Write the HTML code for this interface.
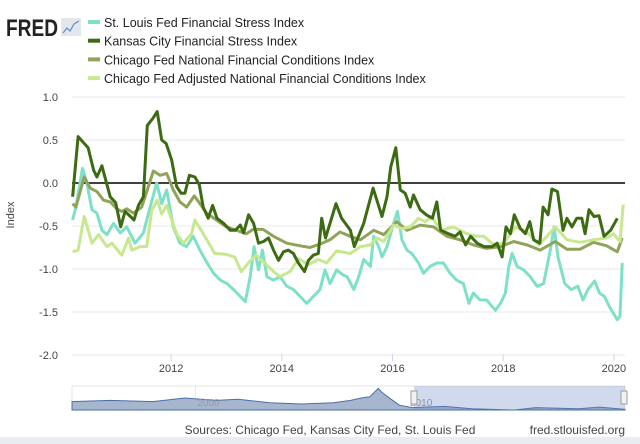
<!DOCTYPE html>
<html><head><meta charset="utf-8">
<style>
body{margin:0;background:#fff;font-family:"Liberation Sans",sans-serif;}
#wrap{position:relative;width:640px;height:444px;overflow:hidden;background:#fff}
svg text{font-family:"Liberation Sans",sans-serif}
</style></head>
<body>
<div id="wrap">
<svg id="chart" width="640" height="444">
  <rect x="0" y="437" width="640" height="7" fill="#e9edf1"/>
  <g>
    <text x="6" y="36" font-size="24" font-weight="bold" fill="#222" textLength="52" lengthAdjust="spacingAndGlyphs">FRED</text>
    <rect x="61" y="18" width="20" height="18" fill="#e3e6ea"/>
    <polyline points="63,33 67,28 70,31 74,24 79,21" fill="none" stroke="#5a8fc4" stroke-width="1.2"/>
  </g>
  <g id="legend"></g>
  <g id="grid"></g>
  <g id="series"></g>
  <g id="nav"></g>
  <text x="14" y="215" font-size="11" fill="#444" transform="rotate(-90 14 215)" text-anchor="middle">Index</text>
  <text x="330" y="434" font-size="12" fill="#444" text-anchor="middle">Sources: Chicago Fed, Kansas City Fed, St. Louis Fed</text>
  <text x="625" y="434" font-size="12" fill="#444" text-anchor="end">fred.stlouisfed.org</text>
</svg>
</div>
<script>
const yTicks=[1.0,0.5,0.0,-0.5,-1.0,-1.5,-2.0];
const xTicks=[2012,2014,2016,2018,2020];
const seriesNames=["St. Louis Fed Financial Stress Index","Kansas City Financial Stress Index","Chicago Fed National Financial Conditions Index","Chicago Fed Adjusted National Financial Conditions Index"];
const stlX=[2010.22,2010.28,2010.4,2010.48,2010.57,2010.66,2010.75,2010.84,2010.96,2011.08,2011.2,2011.35,2011.5,2011.62,2011.74,2011.83,2011.92,2012.04,2012.16,2012.28,2012.4,2012.52,2012.65,2012.77,2012.89,2013.01,2013.13,2013.25,2013.34,2013.43,2013.5,2013.58,2013.65,2013.73,2013.85,2013.97,2014.09,2014.21,2014.33,2014.45,2014.57,2014.69,2014.78,2014.87,2014.99,2015.11,2015.18,2015.3,2015.39,2015.48,2015.6,2015.66,2015.75,2015.81,2015.9,2016.02,2016.09,2016.17,2016.26,2016.35,2016.47,2016.56,2016.68,2016.8,2016.92,2017.04,2017.16,2017.28,2017.38,2017.46,2017.58,2017.7,2017.86,2017.95,2018.04,2018.1,2018.16,2018.25,2018.37,2018.49,2018.61,2018.73,2018.85,2018.92,2018.99,2019.11,2019.23,2019.35,2019.44,2019.53,2019.65,2019.74,2019.83,2019.92,2020.06,2020.11,2020.15];
const stlY=[-0.43,-0.28,0.17,0,-0.31,-0.35,-0.55,-0.6,-0.47,-0.58,-0.51,-0.7,-0.58,-0.28,0,-0.24,-0.08,-0.51,-0.7,-0.74,-0.62,-0.78,-0.93,-1.05,-1.13,-1.17,-1.24,-1.32,-1.38,-1.09,-0.74,-1.01,-0.78,-1.09,-1.13,-1.09,-1.2,-1.24,-1.32,-1.4,-1.32,-1.24,-1.01,-1.17,-1.01,-1.07,-1.09,-1.24,-1.09,-0.89,-0.97,-0.62,-0.74,-0.86,-0.74,-0.47,-0.33,-0.66,-0.78,-0.82,-0.93,-1.05,-0.97,-0.93,-0.93,-1.05,-1.13,-1.17,-1.4,-1.28,-1.36,-1.36,-1.48,-1.4,-1.28,-0.97,-0.82,-0.97,-1.01,-1.09,-1.2,-1.17,-0.78,-0.51,-0.86,-1.17,-1.24,-1.2,-1.36,-1.24,-1.14,-1.28,-1.32,-1.44,-1.59,-1.55,-0.93];
const kcX=[2010.22,2010.32,2010.5,2010.6,2010.66,2010.75,2010.9,2011.0,2011.09,2011.17,2011.33,2011.41,2011.5,2011.57,2011.67,2011.75,2011.83,2011.91,2012.01,2012.1,2012.18,2012.25,2012.33,2012.43,2012.51,2012.58,2012.67,2012.75,2012.83,2012.95,2013.07,2013.16,2013.25,2013.31,2013.4,2013.49,2013.58,2013.67,2013.76,2013.85,2013.94,2014.03,2014.12,2014.21,2014.3,2014.41,2014.48,2014.57,2014.66,2014.72,2014.79,2014.87,2014.98,2015.08,2015.24,2015.31,2015.48,2015.65,2015.81,2015.9,2015.97,2016.06,2016.14,2016.23,2016.32,2016.38,2016.5,2016.61,2016.72,2016.8,2016.87,2017.01,2017.13,2017.22,2017.32,2017.41,2017.53,2017.65,2017.8,2017.89,2017.98,2018.05,2018.13,2018.2,2018.31,2018.4,2018.48,2018.55,2018.66,2018.72,2018.81,2018.88,2018.98,2019.08,2019.15,2019.24,2019.33,2019.42,2019.48,2019.55,2019.64,2019.73,2019.82,2019.94,2020.06];
const kcY=[-0.16,0.54,0.41,0.15,0.07,0.2,-0.16,-0.23,-0.51,-0.33,-0.43,-0.26,-0.16,0.67,0.75,0.83,0.5,0.46,0.27,-0.04,-0.12,-0.12,0.09,0.07,-0.02,-0.28,-0.41,-0.26,-0.41,-0.47,-0.55,-0.55,-0.49,-0.58,-0.37,-0.47,-0.7,-0.68,-0.64,-0.78,-0.9,-0.8,-0.78,-0.82,-0.93,-1.03,-0.9,-0.84,-0.82,-0.41,-0.64,-0.47,-0.24,-0.41,-0.55,-0.74,-0.47,-0.06,-0.39,-0.16,0.19,0.41,-0.08,-0.12,-0.28,-0.14,-0.31,-0.37,-0.41,-0.22,-0.55,-0.59,-0.62,-0.57,-0.72,-0.62,-0.7,-0.74,-0.74,-0.7,-0.86,-0.51,-0.59,-0.37,-0.53,-0.59,-0.45,-0.66,-0.7,-0.28,-0.37,-0.07,-0.1,-0.55,-0.41,-0.51,-0.41,-0.41,-0.59,-0.31,-0.39,-0.38,-0.62,-0.55,-0.41];
const nfciX=[2010.22,2010.28,2010.43,2010.54,2010.66,2010.78,2010.9,2011.02,2011.11,2011.2,2011.32,2011.47,2011.57,2011.68,2011.8,2011.92,2012.04,2012.16,2012.28,2012.42,2012.52,2012.64,2012.82,2013.0,2013.18,2013.36,2013.48,2013.66,2013.85,2014.09,2014.33,2014.51,2014.69,2014.87,2015.05,2015.24,2015.42,2015.66,2015.84,2016.08,2016.26,2016.5,2016.74,2016.98,2017.22,2017.46,2017.7,2017.95,2018.19,2018.43,2018.67,2018.94,2019.15,2019.39,2019.63,2019.87,2020.06,2020.15];
const nfciY=[-0.24,-0.28,0.07,-0.06,-0.1,-0.2,-0.22,-0.3,-0.33,-0.3,-0.35,-0.28,-0.08,0.14,0.09,0.11,-0.08,-0.22,-0.28,-0.15,-0.24,-0.35,-0.43,-0.51,-0.55,-0.59,-0.54,-0.54,-0.62,-0.7,-0.73,-0.75,-0.71,-0.66,-0.57,-0.62,-0.66,-0.55,-0.6,-0.45,-0.55,-0.49,-0.51,-0.62,-0.66,-0.72,-0.76,-0.74,-0.68,-0.72,-0.78,-0.68,-0.77,-0.77,-0.69,-0.73,-0.8,-0.64];
const anfciX=[2010.22,2010.32,2010.43,2010.57,2010.69,2010.84,2010.93,2011.11,2011.23,2011.29,2011.44,2011.56,2011.65,2011.75,2011.83,2011.92,2012.1,2012.22,2012.37,2012.43,2012.58,2012.79,2013.0,2013.15,2013.27,2013.42,2013.54,2013.66,2013.85,2013.97,2014.15,2014.3,2014.48,2014.66,2014.81,2014.99,2015.24,2015.42,2015.6,2015.72,2015.84,2016.02,2016.17,2016.32,2016.47,2016.59,2016.71,2016.87,2017.1,2017.34,2017.52,2017.65,2017.83,2018.01,2018.22,2018.43,2018.64,2018.79,2018.94,2019.15,2019.39,2019.63,2019.87,2019.99,2020.11,2020.17];
const anfciY=[-0.8,-0.78,-0.39,-0.7,-0.6,-0.74,-0.7,-0.84,-0.64,-0.78,-0.74,-0.74,-0.32,-0.2,-0.36,-0.26,-0.59,-0.7,-0.59,-0.43,-0.59,-0.82,-0.83,-0.86,-1.03,-0.91,-0.84,-0.91,-1.03,-1.09,-1.03,-0.88,-0.95,-0.89,-0.93,-0.79,-0.82,-0.74,-0.72,-0.64,-0.68,-0.49,-0.53,-0.51,-0.41,-0.45,-0.39,-0.55,-0.51,-0.59,-0.62,-0.62,-0.72,-0.7,-0.51,-0.57,-0.72,-0.62,-0.51,-0.66,-0.69,-0.66,-0.64,-0.59,-0.68,-0.25];
const navX=[1994.2,1996,1998,1999.5,2001,2002,2003.5,2005,2006.5,2007.3,2007.8,2008.2,2008.6,2008.75,2009.2,2009.6,2010.2,2011.7,2013,2015,2016,2018,2019,2020.2];
const navY=[0.35,0.4,0.35,0.5,0.4,0.45,0.3,0.25,0.3,0.4,0.5,0.55,0.9,0.75,0.45,0.2,0.1,0.15,0.05,0.0,0.1,0.05,0.12,0.03];

const colors=["#7fe0c8","#3d6b13","#8fa35a","#c7e88f"];
const NS="http://www.w3.org/2000/svg";
const X0=72,X1=625,T0=2010.21,T1=2020.2;
const xs=t=>X0+(t-T0)*(X1-X0)/(T1-T0);
const ys=v=>183-86*v;
function mk(tag,attrs,parent){const e=document.createElementNS(NS,tag);for(const k in attrs)e.setAttribute(k,attrs[k]);parent.appendChild(e);return e;}
const grid=document.getElementById('grid');
yTicks.forEach(v=>{
  const l=mk('line',{x1:X0,x2:X1,y1:ys(v),y2:ys(v),stroke:v===0?'#000':'#e8e8e8','stroke-width':v===0?1.5:1},grid);
  
  
  const t=mk('text',{x:58,y:ys(v)+4,'font-size':11,fill:'#444','text-anchor':'end'},grid);
  t.textContent=v.toFixed(1);
  
  
});
xTicks.forEach(yr=>{
  const l=mk('line',{x1:xs(yr),x2:xs(yr),y1:354,y2:361,stroke:'#ccd6eb'},grid);
  
  
  const t=mk('text',{x:xs(yr),y:372,'font-size':11,fill:'#444','text-anchor':'middle'},grid);
  t.textContent=yr;
  
  
});
const ser=document.getElementById('series');
const data=[[stlX,stlY],[kcX,kcY],[nfciX,nfciY],[anfciX,anfciY]];
const names=['stlouis-stress-line','kansas-city-stress-line','nfci-line','anfci-line'];
[0,2,3,1].forEach(i=>{
  const [dx,dy]=data[i];
  const p=mk('polyline',{points:dx.map((t,j)=>xs(t).toFixed(1)+','+ys(dy[j]).toFixed(1)).join(' '),fill:'none',stroke:colors[i],'stroke-width':3,'stroke-linejoin':'round'},ser);
  
  
});
const leg=document.getElementById('legend');
seriesNames.forEach((n,i)=>{
  const g=mk('g',{},leg);
  
  
  const y=25+i*18.7;
  mk('rect',{x:88,y:y-5,width:12,height:4,fill:colors[i]},g);
  const t=mk('text',{x:104,y:y+2,'font-size':12.5,fill:'#222'},g);
  t.textContent=n;
});
// navigator
const nav=document.getElementById('nav');
const NT0=1994.2,NT1=2020.2;
const nx=t=>X0+(t-NT0)*(X1-X0)/(NT1-NT0);
const ny=v=>410-24*v;
const bg=mk('rect',{x:X0,y:386,width:X1-X0,height:24,fill:'#fff',stroke:'#ccc','stroke-width':0.5},nav);


mk('line',{x1:nx(2000),x2:nx(2000),y1:386,y2:410,stroke:'#e6e6e6'},nav);
const pts=navX.map((t,j)=>nx(t).toFixed(1)+','+ny(navY[j]).toFixed(1));
const area=mk('polygon',{points:X0+',410 '+pts.join(' ')+' '+X1+',410',fill:'#a7b6cf',stroke:'#4a6fa5','stroke-width':1},nav);


[[2000,'2000'],[2010,'2010']].forEach(([yr,s])=>{
  const t=mk('text',{x:nx(yr)+2,y:406,'font-size':10,fill:'#999'},nav);
  t.textContent=s;
  
  
});
const sel=mk('rect',{x:414,y:386,width:X1-414,height:24,fill:'rgba(102,133,194,0.3)'},nav);


[414,624].forEach(hx=>{
  const h=mk('rect',{x:hx-3,y:391,width:6,height:13,fill:'#f2f2f2',stroke:'#999','stroke-width':1},nav);
  
  
});
</script>
</body></html>
